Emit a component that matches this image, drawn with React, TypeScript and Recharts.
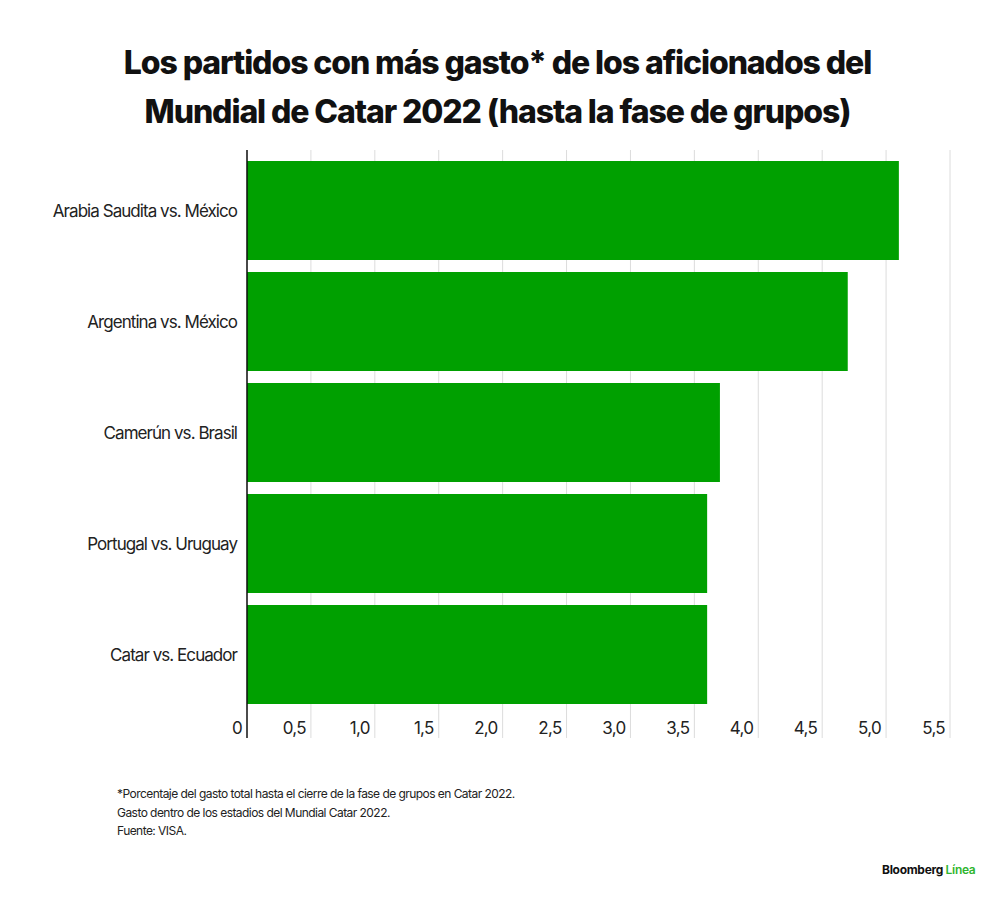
import React from 'react';
import { BarChart, Bar, XAxis, YAxis, CartesianGrid } from 'recharts';

const matches = [
  'Arabia Saudita vs. México',
  'Argentina vs. México',
  'Camerún vs. Brasil',
  'Portugal vs. Uruguay',
  'Catar vs. Ecuador',
];
const spending = [5.1, 4.7, 3.7, 3.6, 3.6];
const xTicks = [0, 0.5, 1, 1.5, 2, 2.5, 3, 3.5, 4, 4.5, 5, 5.5];

const data = matches.map((name, i) => ({ name, value: spending[i] }));

const FONT = 'Inter, "Noto Sans", sans-serif';
const GREEN = '#00a000';

const fmt = (v: number) => (v === 0 ? '0' : v.toFixed(1).replace('.', ','));

function XTick({ x, y, payload }: any) {
  const v = payload.value;
  return (
    <g>
      <line x1={x} y1={y} x2={x} y2={y + 28} stroke={v === 0 ? '#111' : '#dcdcdc'} strokeWidth={v === 0 ? 1.5 : 1} />
      <text x={x - 5} y={y + 24} textAnchor="end" fontSize={17} fill="#222" fontFamily={FONT} letterSpacing={-0.7}>
        {fmt(v)}
      </text>
    </g>
  );
}

export default function App() {
  return (
    <div style={{ position: 'absolute', left: 0, top: 0, width: 1000, height: 900, background: '#fff', fontFamily: FONT }}>
      <div
        style={{
          position: 'absolute',
          top: 38,
          left: 0,
          width: 995,
          textAlign: 'center',
          fontSize: 32,
          fontWeight: 800,
          lineHeight: '49px',
          letterSpacing: -1.1,
          color: '#111',
        }}
      >
        Los partidos con más gasto* de los aficionados del
        <br />
        Mundial de Catar 2022 (hasta la fase de grupos)
      </div>
      <div style={{ position: 'absolute', top: 0, left: 0 }}>
        <BarChart
          width={1000}
          height={900}
          data={data}
          layout="vertical"
          margin={{ top: 150, right: 50, bottom: 150, left: 0 }}
          barSize={99}
        >
          <CartesianGrid horizontal={false} stroke="#dcdcdc" strokeDasharray="" />
          <XAxis
            type="number"
            domain={[0, 5.5]}
            ticks={xTicks}
            interval={0}
            axisLine={false}
            tickLine={false}
            tickSize={0}
            tickMargin={0}
            height={40}
            tick={<XTick />}
          />
          <YAxis
            type="category"
            dataKey="name"
            width={247}
            padding={{ top: 5, bottom: 0 }}
            axisLine={{ stroke: '#111', strokeWidth: 1.5 }}
            tickLine={false}
            tickSize={0}
            tickMargin={10}
            tick={{ fontSize: 17, fill: '#222', fontFamily: FONT, letterSpacing: -0.95 }}
          />
          <Bar dataKey="value" fill={GREEN} isAnimationActive={false} />
        </BarChart>
      </div>
      <div
        style={{
          position: 'absolute',
          top: 785,
          left: 117,
          fontSize: 12,
          lineHeight: '18.5px',
          letterSpacing: -0.55,
          color: '#222',
        }}
      >
        <div>*Porcentaje del gasto total hasta el cierre de la fase de grupos en Catar 2022.</div>
        <div>Gasto dentro de los estadios del Mundial Catar 2022.</div>
        <div>Fuente: VISA.</div>
      </div>
      <div
        style={{
          position: 'absolute',
          top: 862,
          left: 882,
          fontSize: 12,
          fontWeight: 700,
          letterSpacing: -0.3,
          color: '#111',
        }}
      >
        Bloomberg <span style={{ color: '#2fb52f', fontWeight: 600 }}>Línea</span>
      </div>
    </div>
  );
}
